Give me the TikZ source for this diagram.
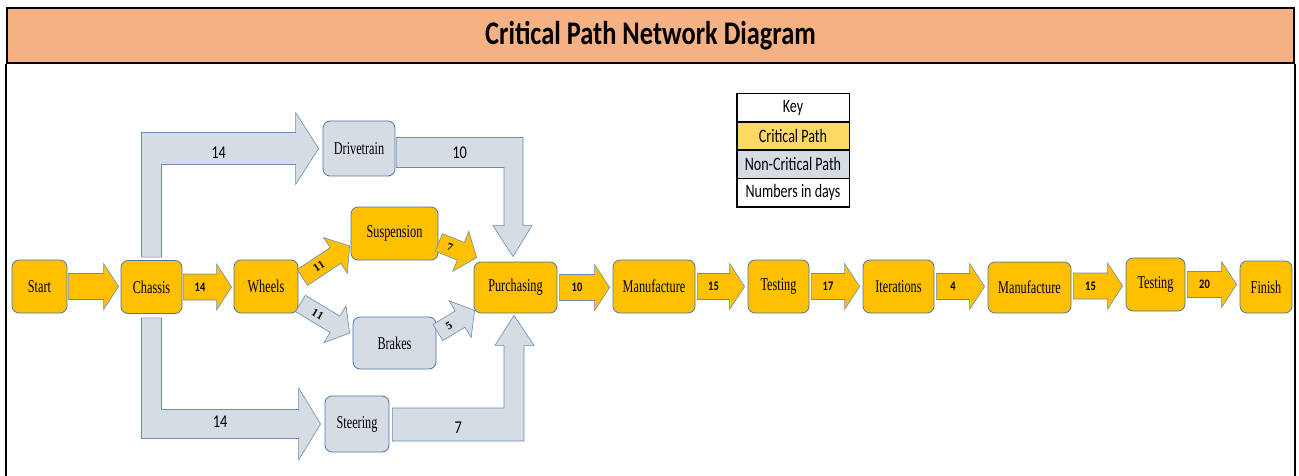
\documentclass[tikz,border=0pt]{standalone}
\usepackage{fontspec}
\usetikzlibrary{calc}
\usetikzlibrary{positioning}

\newfontfamily\boxfont{Liberation Serif}[FakeStretch=0.68]
\newfontfamily\diagfont{DejaVu Serif}[FakeStretch=0.85]
\newfontfamily\keyfont{Carlito}[FakeStretch=0.8]
\newfontfamily\keyrowfont{Carlito}[FakeStretch=0.74]

\definecolor{critfill}{HTML}{FFC000}
\definecolor{noncritfill}{HTML}{D6DCE4}
\definecolor{edgeblue}{HTML}{4A76A4}
\definecolor{arrowedge}{HTML}{6A8CB4}
\definecolor{titleband}{HTML}{F4B183}
\definecolor{keyyellow}{HTML}{FFD966}

\newcommand{\shaftw}{13pt}
\newcommand{\headw}{23pt}
\newcommand{\headlen}{15pt}

% block arrow from #2 to its tip #3, label #4
\newcommand{\blockarrow}[4][critarrow]{%
  \coordinate (ba-s) at (#2);
  \coordinate (ba-t) at (#3);
  \coordinate (ba-h) at ($(ba-t)!\headlen!(ba-s)$);
  \draw[#1] ($(ba-s)!\shaftw!90:(ba-t)$) -- ($(ba-h)!\shaftw!90:(ba-t)$)
    -- ($(ba-h)!\headw!90:(ba-t)$) -- (ba-t)
    -- ($(ba-h)!\headw!-90:(ba-t)$) -- ($(ba-h)!\shaftw!-90:(ba-t)$)
    -- ($(ba-s)!\shaftw!-90:(ba-t)$) -- cycle;
  \path (ba-s) -- (ba-h) node[midway, sloped, #1 label] {#4};
}

\begin{document}
\begin{tikzpicture}[%
  x=1pt, y=-1pt,
  every node/.style={inner sep=0pt},
  crit/.style={draw=edgeblue, fill=critfill, rounded corners=7pt, line width=0.8pt,
    minimum height=53, font=\boxfont\fontsize{18}{18}\selectfont},
  noncrit/.style={crit, fill=noncritfill},
  critarrow/.style={draw=arrowedge, fill=critfill, line width=0.6pt},
  critarrow label/.style={font=\keyfont\bfseries\fontsize{13}{13}\selectfont},
  noncritarrow/.style={critarrow, fill=noncritfill},
  noncritarrow label/.style={font=\keyfont\fontsize{18}{18}\selectfont},
  diagarrow/.style={critarrow},
  diagarrow label/.style={font=\diagfont\bfseries\fontsize{10}{10}\selectfont},
  greydiag/.style={noncritarrow},
  greydiag label/.style={diagarrow label},
  keyrow/.style={draw=black, line width=0.6pt, minimum width=112, minimum height=27.75,
    font=\keyrowfont\fontsize{19}{19}\selectfont},
  frame/.style={draw=black, line width=2pt},
]

  \useasboundingbox (0,0) rectangle (1299,476);

  % title band and frame
  \node[frame, fill=titleband, minimum width=1287, minimum height=55,
    font=\keyfont\bfseries\fontsize{33}{33}\selectfont] (title) at (650.5,35.5)
    {Critical Path Network Diagram};
  \coordinate (bottom) at (0,476);
  \draw[frame] (title.south west) -- (title.south west |- bottom);
  \draw[frame] (title.south east) -- (title.south east |- bottom);

  % activities
  \node[crit, minimum width=55] (start) at (39.5,286.5) {Start};
  \node[crit, minimum width=61] (chassis) at (151.5,287) {Chassis};
  \node[crit, minimum width=64] (wheels) at (266,286.5) {Wheels};
  \node[crit, minimum width=87] (suspension) at (394.5,233.5) {Suspension};
  \node[noncrit, minimum width=83, minimum height=52] (brakes) at (394.5,343) {Brakes};
  \node[noncrit, minimum width=72, minimum height=55] (drivetrain) at (359,148.5) {Drivetrain};
  \node[noncrit, minimum width=64, minimum height=56] (steering) at (357,424) {Steering};
  \node[crit, minimum width=83, minimum height=51] (purchasing) at (515.5,287.5) {Purchasing};
  \node[crit, minimum width=82] (manufacture1) at (654,286.5) {Manufacture};
  \node[crit, minimum width=61] (testing1) at (778.5,286.5) {Testing};
  \node[crit, minimum width=71] (iterations) at (898.5,286.5) {Iterations};
  \node[crit, minimum width=83, minimum height=51] (manufacture2) at (1029.5,287.5) {Manufacture};
  \node[crit, minimum width=59] (testing2) at (1155.5,284.5) {Testing};
  \node[crit, minimum width=52, minimum height=52] (finish) at (1266,287) {Finish};

  % key
  \node[keyrow] (key1) at (793,107.5) {Key};
  \node[keyrow, fill=keyyellow, below=0pt of key1] (key2) {Critical Path};
  \node[keyrow, fill=noncritfill, below=0pt of key2] (key3) {Non-Critical Path};
  \node[keyrow, below=0pt of key3] (key4) {Numbers in days};
  \draw[line width=1.6pt] (key1.north west) rectangle (key4.south east);

  % critical chain
  \blockarrow{$(start.east)+(1,0)$}{$(start.east -| chassis.west)+(-2,0)$}{}
  \blockarrow{$(chassis.east)+(1,0)$}{$(chassis.east -| wheels.west)+(-2,0)$}{14}
  \blockarrow{$(purchasing.east)+(2,0)$}{$(purchasing.east -| manufacture1.west)+(-3,0)$}{10}
  \blockarrow{$(manufacture1.east)+(2,0)$}{$(manufacture1.east -| testing1.west)+(-3,0)$}{15}
  \blockarrow{$(testing1.east)+(2,0)$}{$(testing1.east -| iterations.west)+(-3,0)$}{17}
  \blockarrow{$(iterations.east)+(2,0)$}{$(iterations.east -| manufacture2.west)+(-3,0)$}{4}
  \blockarrow{$(manufacture2.east)+(2,-1.5)$}{$(manufacture2.east -| testing2.west)+(-3,-1.5)$}{15}
  \blockarrow{$(testing2.east)+(2,0)$}{$(testing2.east -| finish.west)+(-3,0)$}{20}

  % diagonal arrows
  \renewcommand{\shaftw}{9.5pt}
  \renewcommand{\headw}{21.5pt}
  \renewcommand{\headlen}{17pt}
  \blockarrow[diagarrow]{$(wheels.east)+(4,-9)$}{$(suspension.west)+(-1,12.5)$}{11}
  \blockarrow[diagarrow]{$(suspension.east)+(0.5,9)$}{$(purchasing.north west)+(3,-4)$}{7}
  \blockarrow[greydiag]{$(wheels.east)+(2,17)$}{$(brakes.west)+(-3,-10)$}{11}
  \blockarrow[greydiag]{$(brakes.east)+(1.5,-10.5)$}{$(purchasing.south west)+(1,-3)$}{5}

  % bent arrows
  \draw[noncritarrow] ($(chassis.north)+(-10,-3)$)
    -- ($(chassis.north |- drivetrain.west)+(-10,-16)$)
    -- ($(drivetrain.west)+(-27,-16)$) -- ($(drivetrain.west)+(-27,-36)$)
    -- ($(drivetrain.west)+(-4,0)$)
    -- ($(drivetrain.west)+(-27,36)$) -- ($(drivetrain.west)+(-27,16)$)
    -- ($(chassis.north |- drivetrain.west)+(10,16)$)
    -- ($(chassis.north)+(10,-3)$) -- cycle;
  \path ($(chassis.north |- drivetrain.west)+(-10,4)$) -- ($(drivetrain.west)+(-27,4)$)
    node[midway, noncritarrow label] {14};

  \draw[noncritarrow] ($(chassis.south)+(-10,4)$)
    -- ($(chassis.south |- steering.west)+(-10,14.5)$)
    -- ($(steering.west)+(-26,14.5)$) -- ($(steering.west)+(-26,36)$)
    -- ($(steering.west)+(-4,0)$)
    -- ($(steering.west)+(-26,-36)$) -- ($(steering.west)+(-26,-14.5)$)
    -- ($(chassis.south |- steering.west)+(10,-14.5)$)
    -- ($(chassis.south)+(10,4)$) -- cycle;
  \path ($(chassis.south |- steering.west)+(-10,-2)$) -- ($(steering.west)+(-26,-2)$)
    node[midway, noncritarrow label] {14};

  \draw[noncritarrow] ($(drivetrain.east)+(1,-11)$)
    -- ($(purchasing.north |- drivetrain.east)+(7.5,-11)$)
    -- ($(purchasing.north)+(7.5,-36)$) -- ($(purchasing.north)+(16.5,-36)$)
    -- ($(purchasing.north)+(-2.5,-5)$)
    -- ($(purchasing.north)+(-22.5,-36)$) -- ($(purchasing.north)+(-11.5,-36)$)
    -- ($(purchasing.north |- drivetrain.east)+(-11.5,19)$)
    -- ($(drivetrain.east)+(1,19)$) -- cycle;
  \path ($(drivetrain.east)+(1,4)$) -- ($(purchasing.north |- drivetrain.east)+(7.5,4)$)
    node[midway, noncritarrow label] {10};

  \draw[noncritarrow] ($(steering.east)+(3,17)$)
    -- ($(purchasing.south |- steering.east)+(8.5,17)$)
    -- ($(purchasing.south)+(8.5,32)$) -- ($(purchasing.south)+(18.5,32)$)
    -- ($(purchasing.south)+(-1.5,2)$)
    -- ($(purchasing.south)+(-20.5,32)$) -- ($(purchasing.south)+(-11.5,32)$)
    -- ($(purchasing.south |- steering.east)+(-11.5,-16)$)
    -- ($(steering.east)+(3,-16)$) -- cycle;
  \path ($(steering.east)+(3,4)$) -- ($(purchasing.south |- steering.east)+(8.5,4)$)
    node[midway, noncritarrow label] {7};

\end{tikzpicture}
\end{document}
